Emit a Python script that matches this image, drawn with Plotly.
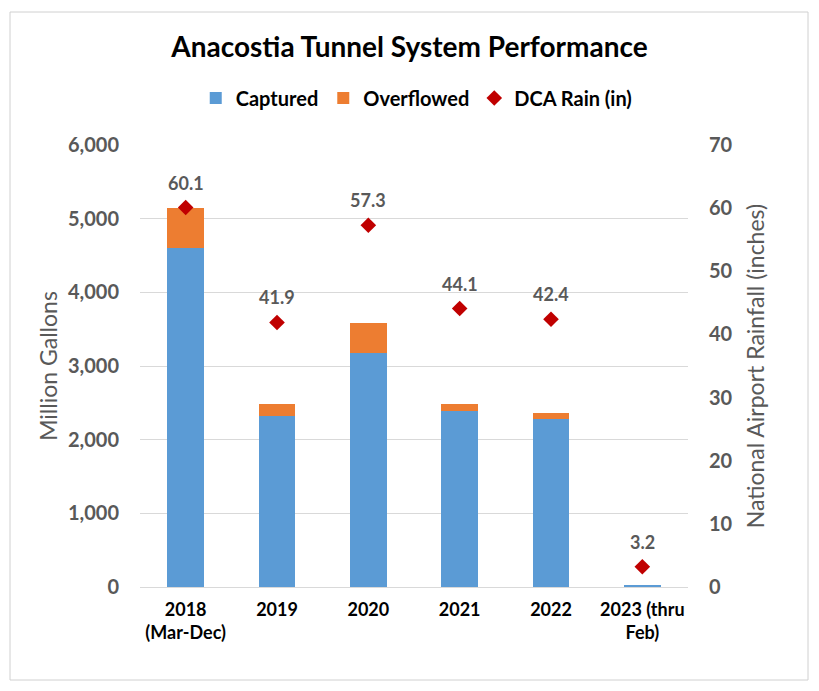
import plotly.graph_objects as go

categories = ["2018<br>(Mar-Dec)", "2019", "2020", "2021", "2022", "2023 (thru<br>Feb)"]
captured = [4600, 2320, 3170, 2390, 2280, 30]
overflowed = [550, 160, 410, 90, 80, 0]
rain = [60.1, 41.9, 57.3, 44.1, 42.4, 3.2]
series_names = ["Captured", "Overflowed", "DCA Rain (in)"]
left_ticks = [0, 1000, 2000, 3000, 4000, 5000, 6000]
right_ticks = [0, 10, 20, 30, 40, 50, 60, 70]

FONT = "Lato, 'Open Sans', sans-serif"
GREY = "#595959"

L, R, T, B = 140, 131, 145, 104
W, H = 819, 691
PW, PH = W - L - R, H - T - B

fig = go.Figure()
fig.add_trace(go.Bar(x=categories, y=captured, name=f"<b>{series_names[0]}</b>",
                     marker_color="#5B9BD5", width=0.4, marker_line_width=0))
fig.add_trace(go.Bar(x=categories, y=overflowed, name=f"<b>{series_names[1]}</b>",
                     marker_color="#ED7D31", width=0.4, marker_line_width=0))
fig.add_trace(go.Scatter(x=categories, y=rain, name=f"<b>{series_names[2]}</b>", mode="markers",
                         marker=dict(symbol="diamond", size=12, color="#C00000"),
                         yaxis="y2"))

for i, r in enumerate(rain):
    fig.add_annotation(x=i, y=r, xref="x", yref="y2", text=f"<b>{r:.1f}</b>", showarrow=False,
                       yshift=25, font=dict(family=FONT, size=18, color=GREY))

fig.update_layout(
    barmode="stack",
    width=W, height=H,
    paper_bgcolor="white", plot_bgcolor="white",
    margin=dict(l=L, r=R, t=T, b=B, autoexpand=False),
    title=dict(text="<b>Anacostia Tunnel System Performance</b>", x=0.5, xanchor="center",
               y=1 - 47 / H, yanchor="middle",
               font=dict(family=FONT, size=28, color="#000000")),
    legend=dict(orientation="h", x=0.505, xanchor="center", y=1 + (T - 98) / PH, yanchor="middle",
                font=dict(family=FONT, size=20, color="#000000"), traceorder="normal",
                itemwidth=30, bgcolor="rgba(0,0,0,0)"),
    xaxis=dict(type="category", categoryorder="array", categoryarray=categories,
               range=[-0.5, len(categories) - 0.5],
               tickvals=categories, ticktext=[f"<b>{c}</b>" for c in categories],
               tickfont=dict(family=FONT, size=18, color="#000000"), showline=True,
               linecolor="#d9d9d9", linewidth=1, ticks="", ticklabelstandoff=6),
    yaxis=dict(range=[0, 6000], tickvals=left_ticks,
               ticktext=[f"<b>{v:,}</b>" for v in left_ticks], gridcolor="#d9d9d9",
               zeroline=False, tickfont=dict(family=FONT, size=20, color=GREY),
               title=dict(text="Million Gallons", font=dict(family=FONT, size=23, color=GREY),
                          standoff=3), ticklabelstandoff=20),
    yaxis2=dict(range=[0, 70], tickvals=right_ticks,
                ticktext=[f"<b>{v}</b>" for v in right_ticks], overlaying="y", side="right",
                showgrid=False, zeroline=False, tickfont=dict(family=FONT, size=20, color=GREY),
                title=dict(text="National Airport Rainfall (inches)",
                           font=dict(family=FONT, size=23, color=GREY), standoff=16),
                ticklabelstandoff=20),
)

fig.add_shape(type="rect", xref="paper", yref="paper",
              x0=-(L - 10) / PW, x1=1 + (808 - (W - R)) / PW,
              y0=-(680 - (H - B)) / PH, y1=1 + (T - 12) / PH,
              line=dict(color="#d0d0d0", width=1), fillcolor="rgba(0,0,0,0)", layer="below")

fig.write_html("out.html", post_script="document.body.style.margin='0';",
               config={"displayModeBar": False})
